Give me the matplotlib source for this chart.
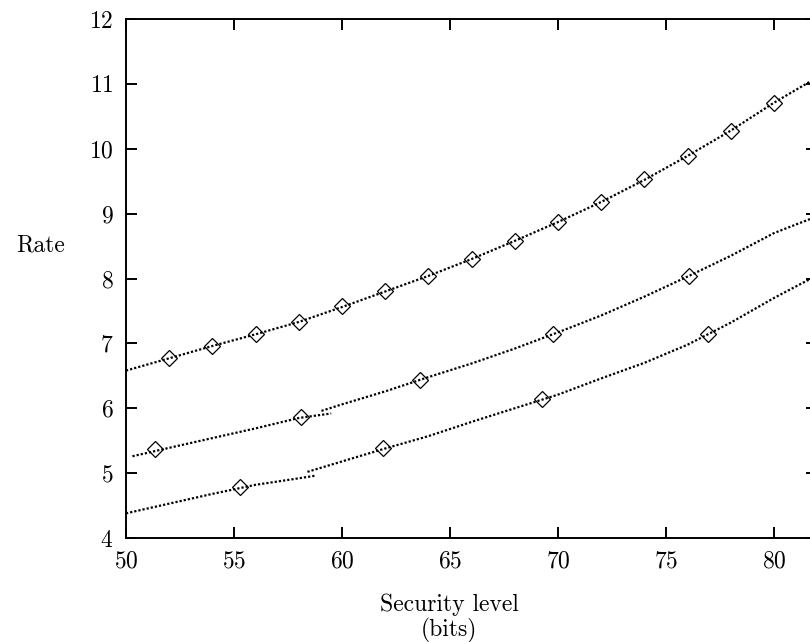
import matplotlib
matplotlib.use("Agg")
import matplotlib.pyplot as plt

# top curve
top_x = [50, 52, 54, 56, 58, 60, 62, 64, 66, 68, 70, 72, 74, 76, 78, 80, 82]
top_y = [6.58, 6.77, 6.96, 7.14, 7.33, 7.56, 7.80, 8.04, 8.30, 8.58, 8.87, 9.18,
         9.52, 9.89, 10.28, 10.71, 11.10]
top_mx = [52, 54, 56, 58, 60, 62, 64, 66, 68, 70, 72, 74, 76, 78, 80]
top_my = [6.77, 6.96, 7.14, 7.33, 7.57, 7.80, 8.04, 8.30, 8.58, 8.87, 9.18,
          9.53, 9.89, 10.28, 10.71]

# middle curve, two pieces with a small step near 59
mid_xa = [50.3, 52, 54, 56, 58, 59.5]
mid_ya = [5.26, 5.39, 5.54, 5.69, 5.85, 5.92]
mid_xb = [59.05, 60, 62, 64, 66, 68, 70, 72, 74, 76, 78, 80, 82]
mid_yb = [5.96, 6.06, 6.26, 6.48, 6.69, 6.92, 7.17, 7.43, 7.72, 8.03, 8.35, 8.70, 8.96]
mid_mx = [51.34, 58.1, 63.62, 69.78, 76.08]
mid_my = [5.37, 5.87, 6.44, 7.15, 8.04]

# bottom curve, two pieces with a small step near 58.5
bot_xa = [50, 52, 54, 56, 58, 58.75]
bot_ya = [4.38, 4.53, 4.68, 4.82, 4.92, 4.96]
bot_xb = [58.4, 60, 62, 64, 66, 68, 70, 72, 74, 76, 78, 80, 82]
bot_yb = [5.02, 5.18, 5.38, 5.57, 5.79, 6.00, 6.21, 6.46, 6.70, 6.98, 7.32, 7.70, 8.05]
bot_mx = [55.28, 61.88, 69.24, 76.96]
bot_my = [4.79, 5.38, 6.15, 7.15]

x_ticks = [50, 55, 60, 65, 70, 75, 80]
y_ticks = [4, 5, 6, 7, 8, 9, 10, 11, 12]

plt.rcParams["font.family"] = ["cmr10", "DejaVu Serif"]
plt.rcParams["mathtext.fontset"] = "cm"
plt.rcParams["axes.formatter.use_mathtext"] = True
plt.rcParams["font.size"] = 17

fig = plt.figure(figsize=(8.1, 6.42), dpi=100)
ax = fig.add_axes([126 / 810, 1 - 538 / 642, 691.2 / 810, 519 / 642])

line_kw = dict(color="black", linewidth=1.6, linestyle=(0, (1, 0.9)),
               dash_capstyle="butt")
mark_kw = dict(linestyle="none", marker="D", markersize=8.5, markerfacecolor="none",
               markeredgecolor="black", markeredgewidth=0.9)

for xs, ys in [(top_x, top_y), (mid_xa, mid_ya), (mid_xb, mid_yb),
               (bot_xa, bot_ya), (bot_xb, bot_yb)]:
    ax.plot(xs, ys, **line_kw)

for xs, ys in [(top_mx, top_my), (mid_mx, mid_my), (bot_mx, bot_my)]:
    ax.plot(xs, ys, **mark_kw)

ax.set_xlim(50, 82)
ax.set_ylim(4, 12)
ax.set_xticks(x_ticks)
ax.set_yticks(y_ticks)
ax.tick_params(direction="in", length=8, width=1.4, pad=9,
               top=True, right=True)
for sp in ax.spines.values():
    sp.set_linewidth(1.4)

fig.text(41 / 810, 1 - 245 / 642, "Rate", ha="center", va="center")
fig.text(449 / 810, 1 - 594 / 642, "Security level\n(bits)", ha="center",
         va="top", linespacing=1.05)

fig.savefig("out.png", dpi=100)
